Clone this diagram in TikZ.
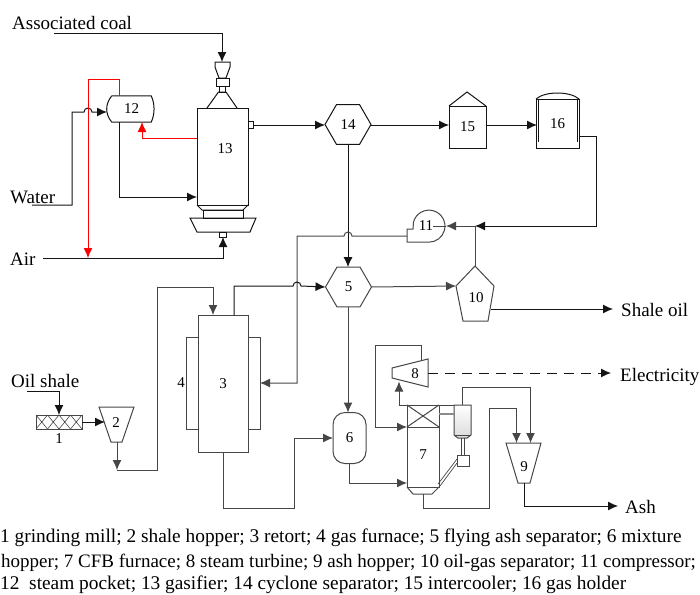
\documentclass[tikz,border=0pt]{standalone}
\usepackage{fontspec}
\setmainfont{Liberation Serif}
\usetikzlibrary{arrows.meta,shapes.geometric,calc}
\definecolor{mydark}{RGB}{20,20,20}
\definecolor{mygray}{RGB}{70,70,70}
\tikzset{
  unit/.style={draw=mydark,fill=none,inner sep=0pt,outer sep=0pt,line width=1pt},
  lowunit/.style={unit,draw=mygray},
  hexa/.style={unit,regular polygon,regular polygon sides=6,minimum size=46pt},
  num/.style={inner sep=0pt,font=\fontsize{15}{15}\selectfont},
  stream/.style={inner sep=0pt,anchor=base west,font=\fontsize{19}{19}\selectfont},
  legend/.style={inner sep=0pt,anchor=base west,font=\fontsize{19.35}{19}\selectfont},
  flow/.style={->,draw=mydark,line width=1pt},
  lowflow/.style={->,draw=mygray,line width=1pt},
  line/.style={draw=mygray,line width=1pt},
  redflow/.style={->,draw=red,line width=1pt}
}
\begin{document}
\begin{tikzpicture}[x=1pt,y=-1pt,>={Latex[length=10pt,width=9pt]}]
  \useasboundingbox (0,0) rectangle (700,594);

  % streams
  \node[stream] (coal)  at (12,29.5) {Associated coal};
  \node[stream] (water) at (10,203)  {Water};
  \node[stream] (air)   at (10,265)  {Air};
  \node[stream] (shale) at (11,387)  {Oil shale};
  \node[stream] (oil)   at (621,316) {Shale oil};
  \node[stream] (elec)  at (620,381) {Electricity};
  \node[stream] (ash)   at (625,513) {Ash};
  \coordinate (coalin)  at (54,34);
  \coordinate (waterin) at (32,205);
  \coordinate (airin)   at (43,258);
  \coordinate (shalein) at (27,391);

  % gasifier
  \node[unit,minimum width=51pt,minimum height=97pt] (gasifier) at (222.5,156.5) {};
  \node[num] (n13) at (225,149) {13};
  \draw[unit] (215,62) coordinate (feedtop) -- (230,62) -- (230,67) -- (226,78) -- (219,78) -- (215,67) -- cycle;
  \node[unit,minimum width=13pt,minimum height=8pt] (lock) at (222.5,82) {};
  \node[unit,minimum width=6.5pt,minimum height=6pt] (neck) at (222.5,89) {};
  \draw[unit] (207,108) -- (218.5,92) -- (226,92) -- (237,108);
  \draw[unit] (197,205) -- (202,210) -- (243,210) -- (248,205);
  \node[unit,minimum width=40pt,minimum height=8pt] (grate) at (223,214) {};
  \draw[unit] (190,218) -- (256,218) -- (250,232) -- (197,232) -- cycle;
  \node[unit,minimum width=7pt,minimum height=5pt] (airport) at (223,234.5) {};
  \node[unit,minimum width=5pt,minimum height=7pt] (gasport) at (250.5,125) {};

  % steam pocket
  \node[num,minimum width=39pt,minimum height=26pt] (pocket) at (131.5,109) {12};
  \draw[unit] (pocket.north west) -- (pocket.north east) .. controls (155,104) and (155,114) .. (pocket.south east)
    -- (pocket.south west) .. controls (105,114) and (105,104) .. (pocket.north west);
  \coordinate (pocketleft) at (107,112);
  \coordinate (pockettop)  at (119,96);
  \coordinate (pocketbot)  at (119,122);
  \coordinate (pocketin)   at (142,122);

  % gas line
  \node[hexa] (cyclone) at (348,124.5) {\fontsize{15}{15}\selectfont 14};
  \node[unit,minimum width=37pt,minimum height=42pt,font=\fontsize{15}{15}\selectfont] (cooler) at (467.5,127) {15};
  \draw[unit] (cooler.north west) -- (467,92) -- (cooler.north east);
  \node[unit,minimum width=43pt,minimum height=49pt,font=\fontsize{15}{15}\selectfont] (holder) at (557.5,123.5) {16};
  \draw[unit] (holder.north west) .. controls (545,91) and (570,91) .. (holder.north east);
  \draw[unit] (538.5,99) -- (538.5,142) (577,99) -- (577,142);

  % compressor
  \draw[lowunit] (407,242) -- (407,229) -- (413,229) -- (413.5,222) arc[start angle=165,end angle=-90,radius=16pt] -- cycle;
  \node[num] (comp) at (426,226) {11};
  \coordinate (compin)  at (446,226);
  \coordinate (compout) at (407,236);
  \coordinate (tee)     at (475,226);

  % retort
  \node[lowunit,minimum width=12pt,minimum height=92pt] (furnL) at (192,383) {};
  \node[lowunit,minimum width=12pt,minimum height=92pt] (furnR) at (254,383) {};
  \node[lowunit,minimum width=50pt,minimum height=137pt,fill=white,font=\fontsize{15}{15}\selectfont] (retort) at (223,383.5) {3};
  \node[num] (n4) at (181,383) {4};

  % separators
  \node[hexa,draw=mygray] (flyash) at (348.5,287) {\fontsize{15}{15}\selectfont 5};
  \draw[lowunit] (456,286) coordinate (oilgasW) -- (475,266) coordinate (oilgasN) -- (494,286) -- (488,321) -- (463,321) -- cycle;
  \node[num] (n10) at (476,298) {10};
  \node[lowunit,rounded corners=12pt,minimum width=33pt,minimum height=51pt,font=\fontsize{15}{15}\selectfont] (mixer) at (349.5,438) {6};

  % feed
  \node[lowunit,minimum width=46pt,minimum height=14pt] (mill) at (59,422) {};
  \foreach \i in {0,1,2,3}
    \draw[lowunit,line width=0.6pt] (36+11.5*\i,415) -- ++(11.5,14) (36+11.5*\i,429) -- ++(11.5,-14);
  \node[num] (n1) at (59,439) {1};
  \draw[lowunit] (99,407) -- (134,407) -- (122,442) -- (111,442) -- cycle;
  \node[num] (n2) at (116,423) {2};
  \coordinate (hoppertop) at (105,422);
  \coordinate (hopperbot) at (117,442);
  \coordinate (hopperend) at (117,470);

  % CFB furnace
  \node[lowunit,minimum width=32pt,minimum height=82pt] (cfb) at (423,446) {};
  \node[num] (n7) at (423,455) {7};
  \node[lowunit,minimum width=32pt,minimum height=22pt] (super) at (423,416) {};
  \draw[lowunit] (super.north west) -- (super.south east) (super.north east) -- (super.south west);
  \draw[lowunit] (407,487) -- (413,494) -- (432,494) -- (439,487);
  \coordinate (cfbbot) at (423,494);
  \draw[lowunit,top color=white,bottom color=black!14] (454,405) -- (471,405) -- (471,435) -- (467,438) -- (458,438) -- (454,435) -- cycle;
  \draw[lowunit] (454,435) -- (471,435);
  \node[lowunit,minimum width=12pt,minimum height=11pt] (loop) at (463,460.5) {};
  \draw[lowunit,line width=0.7pt] (461.5,438) -- (461.5,455) (464.5,438) -- (464.5,455);
  \draw[lowunit,line width=0.7pt] (438,484) -- (457,459) (440,486) -- (457,463);
  \draw[lowunit] (439,405) -- (454,405);
  \draw[lowunit,line width=1.4pt,draw=black!45] (439,414) -- (454,414);
  \coordinate (cyctop) at (462,405);

  % turbine
  \draw[lowunit] (392,368) -- (428,359) -- (428,387) -- (392,378) -- cycle;
  \node[num] (n8) at (415,374) {8};
  \coordinate (turbin)  at (399,381.5);
  \coordinate (turbout) at (421,361);
  \coordinate (turbe)   at (428,373);

  % ash hopper
  \draw[lowunit] (506,443) -- (541,443) -- (530,483) -- (518,483) -- cycle;
  \node[num] (n9) at (524,467) {9};
  \coordinate (ashA) at (516.5,443);
  \coordinate (ashB) at (530.5,443);
  \coordinate (ashC) at (524,483);

  % upper connectors
  \draw[flow] (coalin) -- (222,34) -- (feedtop -| 222,0);
  \draw[flow] (waterin) -- (72,205) -- (72,112) -- (84,112) arc[start angle=180,end angle=0,radius=4pt] -- (pocketleft);
  \draw[flow] (airin) -- (223,258) -- (airport.south);
  \draw[redflow] (pockettop) -- (119,79) -- (88,79) -- (88,258);
  \draw[redflow] (gasifier.west |- 0,138) -- (142,138) -- (pocketin);
  \draw[flow] (pocketbot) -- (119,197) -- (gasifier.west |- 0,197);
  \draw[flow] (gasport.east) -- (cyclone.west |- 0,125);
  \draw[flow] (cyclone.east |- 0,125) -- (cooler.west |- 0,125);
  \draw[flow] (cooler.east |- 0,125) -- (537,125);
  \draw[flow] (holder.east |- 0,136) -- (596,136) -- (596,226) -- (tee);
  \draw[flow] (cyclone.south) -- (flyash.north -| 348,0);

  % lower connectors
  \draw[lowflow] (tee) -- (compin);
  \draw[line] (compin) -- (433,226);
  \draw[line] (oilgasN) -- (tee);
  \draw[lowflow] (compout) -- (352,236) arc[start angle=0,end angle=180,radius=4pt] -- (297,236) -- (297,383) -- (furnR.east |- 0,383);
  \draw[flow] (retort.north -| 234,0) -- (234,286) -- (293,286) arc[start angle=180,end angle=0,radius=4pt] -- (flyash.west);
  \draw[lowflow] (flyash.east) -- (oilgasW);
  \draw[flow] (491,309) -- (613,309);
  \draw[lowflow] (flyash.south -| 348,0) -- (mixer.north -| 348,0);
  \draw[lowflow] (mixer.south) -- (349.5,483) -- (cfb.west |- 0,483);
  \draw[lowflow] (retort.south) -- (223,508) -- (294,508) -- (294,438) -- (mixer.west);
  \draw[flow] (shalein) -- (59,391) -- (mill.north);
  \draw[lowflow,draw=mydark] (mill.east) -- (hoppertop);
  \draw[lowflow] (hopperbot) -- (hopperend);
  \draw[lowflow] (hopperend) -- (157,470) -- (157,287) -- (213,287) -- (retort.north -| 213,0);
  \draw[lowflow] (turbout) -- (421,345) -- (375,345) -- (375,427) -- (super.south west);
  \draw[lowflow] (399,405) -- (turbin);
  \draw[line] (399,405) -- (407,405);
  \draw[lowflow] (cfbbot) -- (423,508) -- (489,508) -- (489,408) -- (516.5,408) -- (ashA);
  \draw[lowflow] (cyctop) -- (462,387) -- (530.5,387) -- (ashB);
  \draw[flow] (ashC) -- (524,506) -- (618,506);
  \draw[flow,dashed,dash pattern=on 10pt off 7pt] (turbe) -- (611,373);

  % legend
  \node[legend] (leg1) at (0,542.5) {1 grinding mill; 2 shale hopper; 3 retort; 4 gas furnace; 5 flying ash separator; 6 mixture};
  \node[legend,font=\fontsize{19}{19}\selectfont] (leg2) at (1,567) {hopper; 7 CFB furnace; 8 steam turbine; 9 ash hopper; 10 oil-gas separator; 11 compressor;};
  \node[legend] (leg3) at (0,589.5) {12\ \ steam pocket; 13 gasifier; 14 cyclone separator; 15 intercooler; 16 gas holder};
\end{tikzpicture}
\end{document}
